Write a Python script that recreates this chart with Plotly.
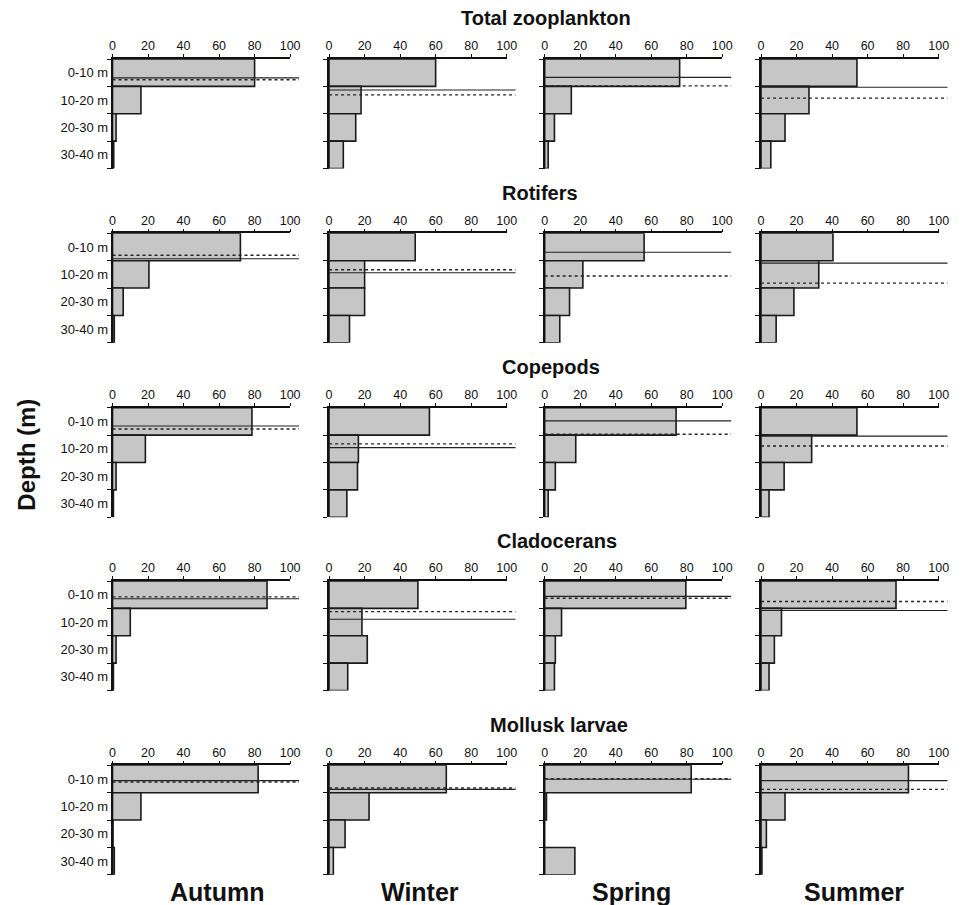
import plotly.graph_objects as go

# ---------------- data ----------------
seasons = ["Autumn", "Winter", "Spring", "Summer"]
groups = ["Total zooplankton", "Rotifers", "Copepods", "Cladocerans", "Mollusk larvae"]
depth_labels = ["0-10 m", "10-20 m", "20-30 m", "30-40 m"]
depth_mid = [5, 15, 25, 35]          # layer centres (m)
x_ticks = [0, 20, 40, 60, 80, 100]

# % of individuals per depth layer, one list per season (Autumn, Winter, Spring, Summer)
total_pct = [[80, 16, 2, 0.7], [60, 18, 15, 8], [76, 15, 5.5, 2], [54, 27, 13.5, 5.5]]
rotifer_pct = [[72, 20.5, 6, 1], [48.5, 20, 20, 11.5], [56, 21.5, 14, 8.5], [40.5, 32.5, 18.5, 8.5]]
copepod_pct = [[78.5, 18.5, 2, 0.5], [56.5, 16.5, 16, 10], [74, 17.5, 6, 2], [54, 28.5, 13, 4.5]]
cladoceran_pct = [[87, 10, 2, 0.5], [50, 18.5, 21.5, 10.5], [79.5, 9.5, 6, 5.5], [76, 11.5, 7.5, 4.5]]
mollusk_pct = [[82, 16, 0.3, 1], [66, 22.5, 9, 2.4], [82.5, 1, 0, 17], [83, 13.5, 3, 0.5]]

# mean depth lines (m): solid and dotted, per season
total_solid = [6.9, 11.3, 6.7, 10.3]
total_dotted = [7.6, 13.1, 9.8, 14.3]
rotifer_solid = [9.3, 14.4, 6.9, 10.9]
rotifer_dotted = [8.0, 13.3, 15.6, 18.2]
copepod_solid = [6.7, 14.6, 4.8, 10.4]
copepod_dotted = [7.8, 13.2, 9.7, 14.0]
cladoceran_solid = [6.5, 14.0, 5.6, 10.8]
cladoceran_dotted = [5.8, 11.2, 6.3, 7.5]
mollusk_solid = [5.6, 8.8, 5.1, 5.6]
mollusk_dotted = [6.1, 8.3, 4.9, 8.8]
line_x = [0, 105]

pct_rows = [total_pct, rotifer_pct, copepod_pct, cladoceran_pct, mollusk_pct]
solid_rows = [total_solid, rotifer_solid, copepod_solid, cladoceran_solid, mollusk_solid]
dotted_rows = [total_dotted, rotifer_dotted, copepod_dotted, cladoceran_dotted, mollusk_dotted]

# ---------------- layout geometry (pixels) ----------------
W, H = 974, 905
col_x0 = [111, 330.5, 549, 768.3]
row_y0 = [59, 233.3, 407.7, 581, 765.3]
px_per_unit = 1.8
panel_h = 109.5
x_max = 106

FONT = "Liberation Sans, Arial, sans-serif"

fig = go.Figure()
layout = dict(
    width=W, height=H, margin=dict(l=0, r=0, t=0, b=0),
    paper_bgcolor="white", plot_bgcolor="rgba(0,0,0,0)",
    showlegend=False, font=dict(family=FONT, size=12, color="black"),
)

for r in range(5):
    for c in range(4):
        k = r * 4 + c + 1
        kx2 = 20 + k
        x0 = col_x0[c] / W
        x1 = (col_x0[c] + x_max * px_per_unit) / W
        x1b = (col_x0[c] + 100 * px_per_unit) / W
        ytop = 1 - row_y0[r] / H
        ybot = 1 - (row_y0[r] + panel_h) / H

        fig.add_trace(go.Bar(
            x=pct_rows[r][c], y=depth_mid, orientation="h", width=10,
            marker=dict(color="#c6c6c6", line=dict(color="#1a1a1a", width=1.6)),
            xaxis=f"x{k}", yaxis=f"y{k}", hoverinfo="skip",
        ))
        sd = solid_rows[r][c]
        dd = dotted_rows[r][c]
        fig.add_trace(go.Scatter(
            x=line_x, y=[sd, sd], mode="lines",
            line=dict(color="#222222", width=1.1),
            xaxis=f"x{k}", yaxis=f"y{k}", hoverinfo="skip",
        ))
        fig.add_trace(go.Scatter(
            x=line_x, y=[dd, dd], mode="lines",
            line=dict(color="#222222", width=1.4, dash="dot"),
            xaxis=f"x{k}", yaxis=f"y{k}", hoverinfo="skip",
        ))
        # carrier trace for the visible 0-100 top axis
        fig.add_trace(go.Scatter(
            x=[None], y=[None], mode="lines",
            xaxis=f"x{kx2}", yaxis=f"y{k}", hoverinfo="skip",
        ))

        layout[f"xaxis{k}"] = dict(
            domain=[x0, x1], range=[0, x_max], anchor=f"y{k}",
            visible=False, fixedrange=True,
        )
        layout[f"xaxis{kx2}"] = dict(
            domain=[x0, x1b], range=[0, 100], anchor=f"y{k}", side="top",
            showline=True, linecolor="#111111", linewidth=1.6,
            ticks="outside", ticklen=3, tickwidth=1.2, tickcolor="#111111",
            tickmode="array", tickvals=x_ticks, ticktext=[str(v) for v in x_ticks],
            ticklabelstandoff=-1,
            tickfont=dict(family=FONT, size=12.5, color="#111111"),
            showgrid=False, zeroline=False, fixedrange=True,
        )
        layout[f"yaxis{k}"] = dict(
            domain=[ybot, ytop], range=[40, 0], anchor=f"x{k}",
            showline=True, linecolor="#111111", linewidth=1.6,
            ticks="", tickmode="array", tickvals=depth_mid, ticktext=depth_labels,
            showticklabels=(c == 0),
            tickfont=dict(family=FONT, size=13, color="#111111"),
            minor=dict(tickmode="array", tickvals=[0, 10, 20, 30, 40], ticks="outside",
                       ticklen=4, tickwidth=1.2, tickcolor="#111111", showgrid=False),
            showgrid=False, zeroline=False, fixedrange=True,
        )

annotations = []
title_y_px = [18, 193, 367, 541, 725]
title_x_px = [550, 544, 555, 561, 564]
for r in range(5):
    annotations.append(dict(
        text=f"<b>{groups[r]}</b>", x=title_x_px[r] / W, y=1 - title_y_px[r] / H,
        xref="paper", yref="paper", showarrow=False, xanchor="center", yanchor="middle",
        font=dict(family=FONT, size=20, color="#111111"),
    ))
season_x_px = [217, 423, 637, 863]
for c in range(4):
    annotations.append(dict(
        text=f"<b>{seasons[c]}</b>", x=season_x_px[c] / W, y=1 - 892 / H,
        xref="paper", yref="paper", showarrow=False, xanchor="center", yanchor="middle",
        font=dict(family=FONT, size=25, color="#111111"),
    ))
annotations.append(dict(
    text="<b>Depth (m)</b>", x=23 / W, y=1 - 455 / H, textangle=-90,
    xref="paper", yref="paper", showarrow=False, xanchor="center", yanchor="middle",
    font=dict(family=FONT, size=24, color="#111111"),
))
layout["annotations"] = annotations

fig.update_layout(**layout)
fig.write_html("out.html")
